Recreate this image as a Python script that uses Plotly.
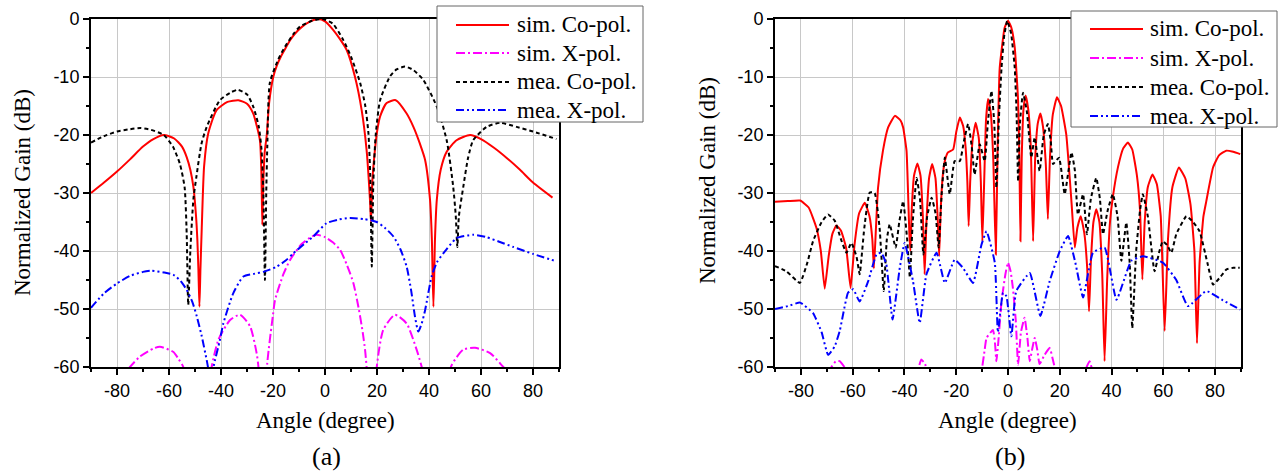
import plotly.graph_objects as go

# ---------------- tick labels ----------------
x_tick_vals = [-80, -60, -40, -20, 0, 20, 40, 60, 80]
x_tick_text = ["-80", "-60", "-40", "-20", "0", "20", "40", "60", "80"]
y_tick_vals = [0, -10, -20, -30, -40, -50, -60]
y_tick_text = ["0", "-10", "-20", "-30", "-40", "-50", "-60"]

# ---------------- Panel (a) data ----------------
a_sim_co_x = [-90, -85, -80, -75, -70, -66, -62, -58, -55, -53.2, -51.8, -50.6, -49.6, -49.1, -48.7, -48.3,
              -47.9, -47.4, -46.5, -44.9, -41.7, -37.5, -33.3, -30, -27.6, -26.2, -25, -24.5, -24.1, -23.7,
              -23.2, -22.4, -21.5, -19.9, -18.5, -17, -15.4, -13.5, -11.5, -9, -6, -2.6, 0, 3.2, 5.5, 8.3, 11.5,
              14.1, 16, 17.3, 17.7, 18.2, 19.2, 20, 21.2, 23.7, 27.2, 31.4, 34, 36.5, 38.5, 40.4, 41.1, 41.7,
              42.3, 43, 44.5, 46.8, 50.6, 55.8, 60, 65, 70, 75, 80, 87.5]
a_sim_co_y = [-30, -28.2, -26.3, -24.2, -22, -20.7, -20, -20.6, -22, -23.8, -26, -29, -34, -38, -43, -49.6,
              -43, -36, -25.4, -19.7, -15.7, -14.3, -14, -14.6, -16.3, -18.5, -21, -26, -35.5, -28,
              -23, -20, -14.5, -10, -8, -6.5, -5.2, -3.7, -2.5, -1.4, -0.5, 0, -0.4, -1.9, -3.3, -5.3, -9.9,
              -15.7, -22.6, -31.2, -35, -28, -22.6, -19.5, -16.8, -14.5, -14, -16.3, -18.6, -21.5, -24.3, -31.2, -38, -49.6,
              -38, -31.2, -26, -22.9, -20.9, -20, -20.7, -22.2, -24, -26, -28.2, -30.8]

a_mea_co_x = [-90, -85, -80, -75, -71, -67, -62, -58.5, -55.8, -54, -53.2, -52.6, -51.8, -50.6, -49.4, -47.5,
              -45.5, -40.4, -36, -33.5, -30, -27.6, -25.5, -24.4, -23.7, -23.1, -22.6, -22.2, -21.2, -18,
              -15.4, -12, -9.6, -5, -1, 3, 7, 10, 13.5, 15.5, 16.7, 17.4, 18, 18.6, 19.5, 21.2, 25, 27.5,
              30.8, 34, 37.8, 43, 46.8, 49.3, 50.3, 50.9, 51.5, 53.2, 55, 57, 62.2, 67.3, 73.7, 80, 89]
a_mea_co_y = [-21.3, -20.2, -19.4, -19, -18.8, -19.1, -20, -22, -25, -29, -37, -49.3, -40, -31, -27, -21.5,
              -18.6, -14, -12.6, -12.2, -13, -15.1, -18.5, -22.6, -30, -45, -30, -22, -11, -7,
              -4.8, -2.5, -1.3, -0.3, 0, -0.8, -3.6, -6.5, -11, -15, -19.7, -27, -42.7, -28, -20, -14, -9.9, -8.7,
              -8.2, -8.8, -10.5, -15.1, -20.9, -28.9, -34, -39.3, -34, -28.9, -24, -20.9, -18.6, -17.9, -18.6, -19.4, -20.7]

a_sim_x_x = [-90, -80, -75, -71.2, -66, -63.5, -58.3, -56.5, -54.5, -50, -45, -43.6, -41, -36.5, -32.7, -28.8,
             -26.3, -25.6, -24, -22.2, -20, -19.2, -16, -13.5, -9, -5, -3.2, 0, 3, 5.8, 8.5, 10.9, 13, 14.5,
             15.4, 16, 18, 19.9, 22.4, 26.9, 31.4, 35.3, 37.2, 42, 48.7, 53.2, 57.7, 63.5, 68.6, 75, 87]
a_sim_x_y = [-70, -63, -60, -58.2, -56.8, -56.5, -57.4, -58.5, -60, -70, -65, -60, -55.3, -51.9, -51, -53,
             -57.6, -60, -75, -59.3, -51, -48.4, -44, -41.6, -38.8, -37.5, -37.2, -37.6, -38.5, -39.8, -42.5, -45.5, -50, -54,
             -57, -60, -75, -60, -53.6, -51, -52.5, -57.1, -60, -70, -59.7, -57, -56.7, -57.6, -60, -63, -70]

a_mea_x_x = [-90, -85, -80, -75, -70, -66.7, -62, -58.3, -55.5, -53.2, -51, -49.3, -47.5, -45.5, -44, -42.3,
             -40.5, -39.1, -35.3, -31.4, -27, -23.7, -18.6, -15, -12.2, -8, -4.5, 0.6, 5, 9.6, 15, 19.9, 23,
             26.3, 29, 31.4, 33.2, 34.6, 35.9, 37.2, 38.5, 41, 43, 45.5, 50.6, 57, 62, 67, 72.4, 80, 89.1]
a_mea_x_y = [-49.8, -47.3, -45.6, -44.3, -43.6, -43.4, -43.7, -44.1, -45.2, -46.7, -48.8, -51.3, -54.5, -58.8, -62, -58.8,
             -55.5, -52.5, -47.3, -44.4, -43.9, -43.6, -42.7, -41.6, -40.4, -38.8, -37.5, -35.2, -34.6, -34.3, -34.5, -35, -36,
             -37.5, -39.7, -42.7, -47, -51.3, -53.9, -52.5, -50.2, -44.4, -42, -40.4, -37.8, -37.2, -37.6, -38.4, -39.3, -40.5, -41.8]

# ---------------- Panel (b) data ----------------
b_sim_co_x = [-90, -85, -80.3, -77, -74, -72.3, -70.8, -69.3, -67.8, -66.3, -64.5, -62.5, -60.8, -59.3, -57.5, -55.3,
              -53.5, -52.4, -51.8, -51, -50.2, -48.3, -46.3, -43.7, -41.5, -40.5, -39.2, -38.6, -38.1, -37.7, -37.2,
              -36.3, -35, -33.8, -32.8, -32.2, -31.5, -30.5, -29.3, -28, -27.1, -26.6, -26, -25.2, -24.4, -23.2,
              -21.2, -20, -18.6, -17.3, -16.4, -15.7, -15.2, -14.6, -13.7, -12.5, -11.3, -10.5, -9.9, -9.2, -8.5,
              -7.7, -6.7, -5.7, -4.7, -4, -3.2, -1.3, 0, 1.3, 2.6, 3.9, 4.4, 4.8, 5.3, 6, 6.8, 7.8, 8.8, 9.7, 10.5,
              11.5, 12.5, 13.5, 14.6, 15.4, 16.2, 17.3, 18.9, 20.5, 22.5, 24.5, 25.8, 26.8, 28.1, 29.5, 30.6, 31.3,
              32, 33, 34.1, 35.3, 36.4, 37.3, 38.3, 39.4, 40.5, 42.5, 44.5, 46.3, 48, 49.8, 51, 51.9, 52.8, 54,
              55.8, 57.5, 59, 60.5, 61.8, 63.5, 66, 68.5, 70.5, 72, 73, 74, 75.5, 76.6, 79.2, 81.5, 84.3, 87, 89.7]
b_sim_co_y = [-31.5, -31.4, -31.3, -32.5, -36, -40, -46.5, -41, -37, -35.6, -36.5, -39.5, -46.4, -39, -33.5, -31.7,
              -34, -38, -43, -36, -29.1, -22.7, -18.7, -16.7, -17.5, -18.7, -22.7, -30, -37, -40, -33,
              -27, -24.9, -27, -35, -44, -35, -27.5, -25, -27.5, -35, -40.9, -33, -27, -24.5, -23,
              -22.5, -19.5, -17, -18.5, -22, -28, -35.7, -28, -21, -17.9, -20.5, -28, -38.3, -28, -17.5,
              -13.8, -16, -24, -40.6, -22, -8.4, -1.5, -0.3, -1.5, -4.9, -14.1, -24, -38.3, -24, -15.5, -13.2, -15.5, -22, -38.3, -24,
              -18, -16.3, -18.5, -25, -34.5, -24, -16.5, -13.5, -15, -19.9, -31.4, -39.4, -36, -34, -37, -43, -50.4,
              -42, -35, -32.8, -35, -44, -59, -45, -35, -30.7, -25.5, -22.3, -21.3, -22.5, -27, -33, -44.9, -35, -29,
              -26.8, -28.5, -34, -53.8, -38, -29, -25.6, -27.5, -32, -40, -55.9, -42, -34, -31.4, -25.6, -23.5, -22.7, -22.9, -23.3]

b_mea_co_x = [-90, -85.6, -80.4, -77.5, -75.3, -72, -69.5, -66.9, -64.5, -62.4, -60.5, -58.5, -57.3, -55.5, -53.4,
              -51.5, -49.6, -48, -46.8, -45.7, -43.4, -42, -40.5, -38.9, -37.9, -36.8, -35.3, -34, -32.7, -31.2,
              -29.5, -28, -26.8, -25.6, -24.4, -22.5, -20.6, -18.6, -17, -15.4, -14, -12.9, -10.9, -9, -7.8, -6.4,
              -5.3, -4.5, -3.5, -2.5, -1.5, -0.3, 1.2, 2.6, 3.3, 3.9, 4.6, 5.8, 7.3, 9, 10.3, 12.2, 13.8, 15.4,
              16.5, 17.4, 19.7, 21.9, 24.5, 25.8, 27, 29, 30.5, 32, 34.1, 35.5, 36.7, 38.5, 40.5, 42.3, 43.8, 45.7,
              47, 48, 49.5, 51, 52.1, 54, 56.6, 58.5, 59.8, 61.5, 63.1, 65, 68.9, 71.5, 74, 77, 79.2, 82, 84.3, 87, 89.5]
b_mea_co_y = [-42.6, -43.5, -45.5, -42, -38.3, -35, -33.7, -34.8, -38, -40.3, -38.6, -41, -44, -36, -29.9,
              -30, -36, -46.9, -38, -35.4, -39.4, -35, -31.4, -38.3, -44.6, -35, -27.4, -31, -40.6, -34,
              -30.8, -33.5, -39.4, -30, -23.9, -30.2, -24.5, -24.5, -21, -18.1, -22, -26.8, -21.6, -24.5, -18, -12.4,
              -18, -29.1, -17, -8.4, -3, -0.3, -2.5, -8.4, -16, -28, -18, -12.7, -16, -23.9, -20.4, -26.2, -20, -18.1,
              -21, -25, -23.9, -30.2, -23, -26, -33.7, -30.2, -37.1, -31, -27.4, -31, -37.1, -33, -30.2, -34, -41.7, -35.1,
              -42, -53.3, -40, -33, -30.2, -34, -43.5, -40, -38.3, -39, -40.3, -37.1, -34, -35, -36.6, -42, -45.8, -44.5, -43.2, -42.9, -42.9]

b_sim_x_x = [-90, -75, -70, -68.2, -66.5, -65, -63.2, -61, -50, -40, -35, -33.5, -32, -31.3, -25, -15, -10.3, -9,
             -8.3, -5.8, -5, -4.5, -3.8, -2.5, -1, 0, 1, 1.9, 3, 3.9, 5, 6.4, 7.5, 8.4, 9.3, 10.3, 11.3, 12.2, 14,
             16.1, 17.2, 18, 20, 25, 29.5, 31.5, 32.8, 36, 45, 60, 75, 90]
b_sim_x_y = [-75, -70, -62, -60, -59, -59, -60, -64, -75, -70, -61, -58.7, -59.5, -61, -75, -70, -61, -57,
             -55, -53.6, -56, -59, -56, -48.7, -44, -42, -43.5, -46.4, -52, -59.6, -54, -51.5, -55, -59, -57, -55, -57, -59.5, -58,
             -56.7, -58.5, -60, -65, -72, -61, -59, -61, -66, -75, -72, -75, -75]

b_mea_x_x = [-90, -85, -80.3, -75.3, -72, -69.5, -67, -65, -61.8, -59.8, -57.3, -54, -50.8, -48.9, -47, -44.6,
             -41.8, -39.9, -36.7, -34.1, -31.5, -27.6, -24.4, -20.6, -17.4, -13.5, -10.3, -8.3, -5.1, -3.9, -1.9,
             -0.6, 1.3, 3.2, 8.4, 12.5, 16.1, 20, 23.2, 26, 29, 32.8, 37.3, 41.9, 47.6, 52.1, 59.8, 65, 69.5, 76.6, 83, 89.7]
b_mea_x_y = [-50, -49.5, -48.9, -50.7, -54, -57.9, -56.5, -53.8, -47.2, -46.6, -48.7, -45.2, -40.6, -40.3, -42.3, -51.8,
             -42.9, -38.6, -45.2, -52.4, -44, -40.3, -45.5, -41.5, -42.9, -45.5, -39, -36.6, -42, -54, -47.2,
             -47.8, -54.7, -46.9, -43.8, -51.2, -45.2, -40, -37.4, -42, -48, -40.3, -39.4, -48.4, -41.7, -40.9, -42, -45, -49.5, -46.9, -48.5, -50.1]

names = ["sim. Co-pol.", "sim. X-pol.", "mea. Co-pol.", "mea. X-pol."]
colors = ["#ff0000", "#ff00ff", "#000000", "#0000ff"]
dashes = ["solid", "9px,3px,2px,3px", "4px,3px", "8px,3px,2px,3px,2px,3px"]

panel_a = [(a_sim_co_x, a_sim_co_y), (a_sim_x_x, a_sim_x_y), (a_mea_co_x, a_mea_co_y), (a_mea_x_x, a_mea_x_y)]
panel_b = [(b_sim_co_x, b_sim_co_y), (b_sim_x_x, b_sim_x_y), (b_mea_co_x, b_mea_co_y), (b_mea_x_x, b_mea_x_y)]

W, H = 1278, 472
fig = go.Figure()

for i, (xs, ys) in enumerate(panel_a):
    fig.add_trace(go.Scatter(x=xs, y=ys, mode="lines", name=names[i], xaxis="x", yaxis="y", showlegend=False,
                             line=dict(color=colors[i], width=2, dash=dashes[i], shape="spline", smoothing=0.6)))
for i, (xs, ys) in enumerate(panel_b):
    fig.add_trace(go.Scatter(x=xs, y=ys, mode="lines", name=names[i], xaxis="x2", yaxis="y2", showlegend=False,
                             line=dict(color=colors[i], width=2, dash=dashes[i], shape="spline", smoothing=0.4)))

tickfont = dict(family="Liberation Sans, Arial", size=18, color="black")
def xax(domain, anchor):
    return dict(domain=domain, anchor=anchor, range=[-90, 90], tickmode="array", tickvals=x_tick_vals,
                ticktext=x_tick_text, ticks="outside", ticklen=6,
                tickwidth=1.5, tickcolor="black", showline=True, linecolor="black", linewidth=2, mirror=True,
                showgrid=True, gridcolor="#c8c8c8", gridwidth=1, zeroline=False, tickfont=tickfont,
                automargin=False,
                minor=dict(tickmode="linear", dtick=10, tick0=0, ticks="outside", ticklen=3, tickcolor="black",
                           showgrid=False))
def yax(anchor):
    return dict(domain=[105 / H, 1 - 19 / H], anchor=anchor, range=[-60, 0], tickmode="array",
                tickvals=y_tick_vals, ticktext=y_tick_text, ticks="outside",
                ticklen=6, tickwidth=1.5, tickcolor="black", showline=True, linecolor="black", linewidth=2,
                mirror=True, showgrid=True, gridcolor="#c8c8c8", gridwidth=1, zeroline=False, tickfont=tickfont,
                automargin=False,
                minor=dict(tickmode="linear", dtick=5, tick0=0, ticks="outside", ticklen=3, tickcolor="black",
                           showgrid=False))

serif = "Liberation Serif, Times New Roman"

def px(xp):
    return xp / W
def py(yp):
    return 1 - yp / H

shapes = []
annotations = []

# manual legends (box, line samples, labels)
for (bx0, by0, bx1, by1, s0, s1, tx, rows) in [
        (437, 6, 643, 122, 456, 509, 515, [25, 53, 82, 110]),
        (1071, 11, 1277, 127, 1090, 1143, 1148, [29, 58, 87, 116])]:
    shapes.append(dict(type="rect", xref="paper", yref="paper", x0=px(bx0), x1=px(bx1), y0=py(by1), y1=py(by0),
                       fillcolor="white", line=dict(color="#666666", width=1), layer="above"))
    for i, ry in enumerate(rows):
        shapes.append(dict(type="line", xref="paper", yref="paper", x0=px(s0), x1=px(s1), y0=py(ry), y1=py(ry),
                           line=dict(color=colors[i], width=2, dash=dashes[i]), layer="above"))
        annotations.append(dict(text=names[i], x=px(tx), y=py(ry), xref="paper", yref="paper", showarrow=False,
                                xanchor="left", yanchor="middle",
                                font=dict(family=serif, size=23, color="black")))

def label(text, x, y, size, angle=0):
    return dict(text=text, x=px(x), y=py(y), xref="paper", yref="paper", showarrow=False, textangle=angle,
                xanchor="center", yanchor="middle", font=dict(family=serif, size=size, color="black"))

annotations += [
    label("Normalized Gain (dB)", 22, 193, 23, -90),
    label("Normalized Gain (dB)", 707, 181, 23, -90),
    label("Angle (degree)", 325, 420, 23),
    label("Angle (degree)", 1008, 420, 23),
    label("(a)", 327, 456, 26),
    label("(b)", 1010, 456, 26),
]

fig.update_layout(
    width=W, height=H, margin=dict(l=0, r=0, t=0, b=0, autoexpand=False),
    paper_bgcolor="white", plot_bgcolor="white", showlegend=False,
    xaxis=xax([91 / W, 559 / W], "y"), yaxis=yax("x"),
    xaxis2=xax([775 / W, 1241 / W], "y2"), yaxis2=yax("x2"),
    shapes=shapes, annotations=annotations,
)

fig.write_html("out.html", config={"displayModeBar": False},
               post_script="document.body.style.margin='0px';")
